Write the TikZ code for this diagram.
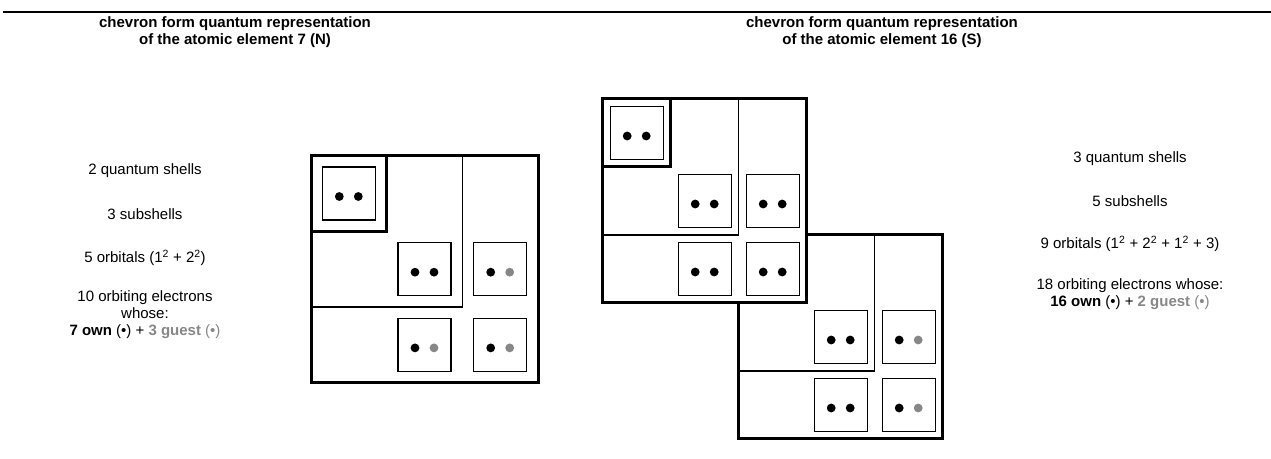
\documentclass[tikz,border=0pt]{standalone}
\usepackage{fontspec}
\setmainfont{Liberation Sans}
\definecolor{guest}{gray}{0.53}
\newcommand\orb[4]{%
  \node[orbbox] (#1) at (#2) {};
  \fill[#3] ([xshift=-9.5bp,yshift=-3bp]#1.center) circle (4.4bp);
  \fill[#4] ([xshift=9.5bp,yshift=-3bp]#1.center) circle (4.4bp);}
\begin{document}
\begin{tikzpicture}[x=1bp,y=-1bp,
  thickl/.style={line width=3bp},
  thinl/.style={line width=1.4bp},
  orbbox/.style={draw,line width=1.4bp,minimum size=53bp,inner sep=0pt},
  txt/.style={font=\fontsize{15bp}{17bp}\selectfont,align=center,inner sep=0pt},
  ttl/.style={font=\fontsize{15bp}{17bp}\selectfont\bfseries,align=center,inner sep=0pt}]
\useasboundingbox (0,0) rectangle (1271,459);
\draw[line width=1.6bp] (3,12) -- (1271,12);
% titles
\node[ttl] (tl) at (235,32) {chevron form quantum representation\\of the atomic element 7 (N)};
\node[ttl] (tr) at (882,32) {chevron form quantum representation\\of the atomic element 16 (S)};
% left texts
\node[txt] (l1) at (145,171) {2 quantum shells};
\node[txt] (l2) at (145,214) {3 subshells};
\node[txt] (l3) at (145,258) {5 orbitals (1\textsuperscript{2} + 2\textsuperscript{2})};
\node[txt] (l4) at (145,315) {10 orbiting electrons\\whose:\\\textbf{7 own} (•) + \textcolor{guest}{\textbf{3 guest} (•)}};
% right texts
\node[txt] (r1) at (1130,159) {3 quantum shells};
\node[txt] (r2) at (1130,201) {5 subshells};
\node[txt] (r3) at (1130,244) {9 orbitals (1\textsuperscript{2} + 2\textsuperscript{2} + 1\textsuperscript{2} + 3)};
\node[txt] (r4) at (1130,294) {18 orbiting electrons whose:\\\textbf{16 own} (•) + \textcolor{guest}{\textbf{2 guest} (•)}};
% N diagram
\draw[thickl] (311,155.7) rectangle (538,382.7);
\draw[thickl] (311,231.4) -| (386.7,155.7);
\draw[thinl] (462.3,155.7) |- (311,307);
\orb{n1s}{348.8,193.5}{black}{black}
\orb{n2a}{424.5,269.2}{black}{black}
\orb{n2b}{500.2,269.2}{black}{guest}
\orb{n2c}{424.5,344.9}{black}{guest}
\orb{n2d}{500.2,344.9}{black}{guest}
% S diagram upper
\draw[thickl] (602.7,99) rectangle (806.7,303);
\draw[thickl] (602.7,167) -| (670.7,99);
\draw[thinl] (738.7,99) |- (602.7,235);
\orb{s1s}{636.7,133}{black}{black}
\orb{s2a}{704.7,201}{black}{black}
\orb{s2b}{772.7,201}{black}{black}
\orb{s2c}{704.7,269}{black}{black}
\orb{s2d}{772.7,269}{black}{black}
% S diagram lower
\draw[thickl] (806.7,235) -- (942.7,235) -- (942.7,439) -- (738.7,439) -- (738.7,303);
\draw[thinl] (874.7,235) |- (738.7,371);
\orb{s3a}{840.7,337}{black}{black}
\orb{s3b}{908.7,337}{black}{guest}
\orb{s3c}{840.7,405}{black}{black}
\orb{s3d}{908.7,405}{black}{guest}
\end{tikzpicture}
\end{document}
